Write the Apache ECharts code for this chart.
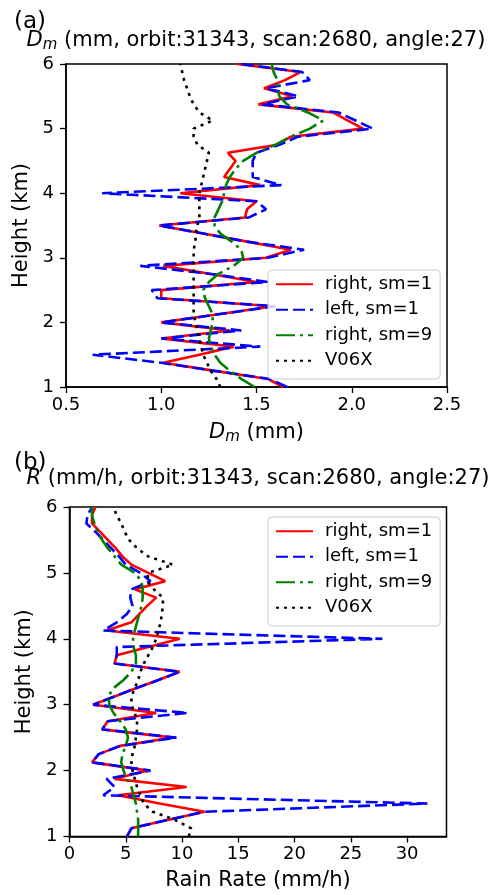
<!DOCTYPE html>
<html>
<head>
<meta charset="utf-8">
<script src="https://cdn.jsdelivr.net/npm/echarts@6/dist/echarts.min.js"></script>
<style>
html, body { margin: 0; padding: 0; background: #fff; }
#main { width: 493px; height: 895px; }
</style>
</head>
<body>
<div id="main"></div>
<script>
// heights (km), 125 m bins
var heights = [1.0, 1.125, 1.25, 1.375, 1.5, 1.625, 1.75, 1.875, 2.0, 2.125,
    2.25, 2.375, 2.5, 2.625, 2.75, 2.875, 3.0, 3.125, 3.25, 3.375,
    3.5, 3.625, 3.75, 3.875, 4.0, 4.125, 4.25, 4.375, 4.5, 4.625,
    4.75, 4.875, 5.0, 5.125, 5.25, 5.375, 5.5, 5.625, 5.75, 5.875, 6.0];

// (a) Dm, mm
var dmRight1 = [1.64, 1.56, 1.28, 1.01, 1.20, 1.38, 1.00, 1.36, 1.00, 1.30,
    1.59, 1.00, 1.00, 1.50, 1.26, 1.01, 1.55, 1.68, 1.45, 1.22,
    0.99, 1.44, 1.45, 1.50, 1.10, 1.52, 1.33, 1.36, 1.39, 1.35,
    1.61, 1.68, 2.06, 1.98, 1.90, 1.51, 1.69, 1.54, 1.65, 1.73, 1.40];
var dmLeft1 = [1.66, 1.57, 1.28, 1.00, 0.64, 1.52, 1.00, 1.42, 1.00, 1.30,
    1.60, 0.98, 0.95, 1.56, 1.26, 0.89, 1.56, 1.75, 1.45, 1.22,
    0.99, 1.46, 1.55, 1.50, 0.69, 1.63, 1.48, 1.48, 1.48, 1.50,
    1.62, 1.72, 2.11, 2.02, 1.93, 1.53, 1.72, 1.55, 1.78, 1.74, 1.42];
var dmRight9 = [1.49, 1.42, 1.36, 1.31, 1.28, 1.26, 1.25, 1.26, 1.27, 1.27,
    1.25, 1.23, 1.22, 1.25, 1.30, 1.38, 1.43, 1.42, 1.37, 1.31,
    1.28, 1.28, 1.30, 1.32, 1.33, 1.34, 1.36, 1.39, 1.43, 1.50,
    1.60, 1.68, 1.78, 1.85, 1.77, 1.66, 1.62, 1.61, 1.61, 1.59, 1.58];
var dmV06X = [1.31, 1.29, 1.26, 1.24, 1.22, 1.21, 1.20, 1.19, 1.18, 1.17,
    1.17, 1.17, 1.17, 1.17, 1.17, 1.17, 1.17, 1.17, 1.18, 1.18,
    1.19, 1.20, 1.20, 1.20, 1.20, 1.21, 1.22, 1.23, 1.24, 1.25,
    1.19, 1.17, 1.17, 1.27, 1.20, 1.17, 1.15, 1.135, 1.12, 1.11, 1.10];

// (b) rain rate, mm/h
var rrRight1 = [5.1, 5.5, 8.7, 12.0, 8.0, 4.3, 10.4, 4.0, 7.0, 2.0,
    2.6, 4.5, 9.2, 2.9, 3.4, 7.7, 2.1, 4.0, 5.9, 7.9,
    9.8, 4.0, 4.2, 7.0, 9.8, 3.3, 5.5, 6.2, 6.9, 7.7,
    5.8, 8.5, 7.0, 5.5, 4.7, 4.1, 3.4, 2.7, 2.0, 2.0, 2.3];
var rrLeft1 = [5.1, 5.5, 8.7, 12.0, 31.8, 3.0, 4.0, 3.3, 7.2, 2.0,
    2.6, 4.5, 9.5, 2.9, 3.4, 10.5, 2.1, 4.0, 5.9, 7.9,
    9.8, 4.0, 4.2, 4.2, 27.8, 3.0, 4.2, 5.1, 5.6, 5.4,
    5.5, 7.2, 6.3, 5.0, 4.4, 3.7, 3.0, 2.3, 1.5, 1.6, 2.0];
var rrRight9 = [6.1, 6.1, 6.1, 6.0, 5.9, 5.7, 5.5, 5.1, 4.8, 4.6,
    4.7, 5.0, 5.2, 5.0, 4.5, 3.9, 3.55, 3.45, 3.9, 4.8,
    5.5, 5.9, 5.9, 5.7, 5.65, 5.8, 6.0, 6.2, 6.4, 6.5,
    6.5, 6.4, 5.8, 4.6, 4.0, 3.4, 2.9, 2.5, 2.2, 2.0, 2.0];
var rrV06X = [10.6, 10.8, 9.4, 7.4, 6.6, 6.3, 6.0, 5.8, 5.6, 5.5,
    5.6, 5.8, 5.9, 6.0, 6.0, 5.8, 5.5, 5.5, 5.8, 6.1,
    6.3, 6.6, 7.0, 7.4, 7.7, 7.9, 8.1, 8.2, 8.3, 8.3,
    7.5, 6.9, 7.0, 9.2, 7.0, 6.0, 5.3, 4.9, 4.6, 4.2, 3.9];

var names = ['right, sm=1', 'left, sm=1', 'right, sm=9', 'V06X'];

var font = 'DejaVu Sans';
var chart = echarts.init(document.getElementById('main'));

var lineStyles = [
    {color: '#ff0000', width: 2.6, type: 'solid'},
    {color: '#0000ff', width: 2.6, type: [12, 5]},
    {color: '#008000', width: 2.6, type: [19, 5, 3, 5]},
    {color: '#000000', width: 2.6, type: [3, 5]}
];

function pairs(vals) {
    return vals.map(function (v, i) { return [v, heights[i]]; });
}

function makeSeries(idx, lists) {
    return lists.map(function (vals, k) {
        return {
            name: names[k],
            type: 'line',
            xAxisIndex: idx,
            yAxisIndex: idx,
            data: pairs(vals),
            symbol: 'none',
            showSymbol: false,
            color: lineStyles[k].color,
            lineStyle: lineStyles[k],
            z: 2 + k
        };
    });
}

var tickText = {color: '#000', fontSize: 18, fontFamily: font};
var nameText = {
    color: '#000', fontSize: 21, fontFamily: font, fontWeight: 'normal',
    rich: {
        i: {fontStyle: 'italic', fontWeight: 'normal', fontSize: 21, fontFamily: font, color: '#000'},
        s: {fontStyle: 'italic', fontWeight: 'normal', fontSize: 15, fontFamily: font, color: '#000', padding: [10, 0, 0, 0]},
        n: {fontWeight: 'normal', fontSize: 21, fontFamily: font, color: '#000'}
    }
};

function valueAxis(idx, min, max, interval, name, gap, extra) {
    var ax = {
        type: 'value',
        gridIndex: idx,
        min: min,
        max: max,
        interval: interval,
        name: name,
        nameLocation: 'middle',
        nameGap: gap,
        nameTextStyle: nameText,
        axisLine: {show: true, onZero: false, lineStyle: {color: '#000', width: 1.5}},
        axisTick: {show: true, inside: false, length: 6, lineStyle: {color: '#000', width: 1.3}},
        axisLabel: Object.assign({margin: 9, showMaxLabel: true}, tickText),
        splitLine: {show: false}
    };
    return Object.assign(ax, extra || {});
}

function legendFor(top) {
    return {
        data: names,
        orient: 'vertical',
        left: 268,
        top: top,
        itemWidth: 37,
        itemHeight: 14,
        itemGap: 5,
        padding: [4, 8, 8, 7],
        backgroundColor: 'rgba(255,255,255,0.8)',
        borderColor: '#cccccc',
        borderWidth: 1,
        borderRadius: 4,
        selectedMode: false,
        itemStyle: {opacity: 0},
        textStyle: {color: '#000', fontSize: 18, fontFamily: font, lineHeight: 20.5, padding: [0, 0, 0, 7]}
    };
}

var option = {
    animation: false,
    backgroundColor: '#fff',
    title: [
        {text: '(a)', left: 14, top: 11, padding: 0,
            textStyle: {color: '#000', fontSize: 23, fontWeight: 'normal', fontFamily: font}},
        {text: '{i|D}{s|m}{n| (mm, orbit:31343, scan:2680, angle:27)}', left: 256, top: 28, padding: 0,
            textAlign: 'center', textStyle: nameText},
        {text: '(b)', left: 14, top: 452, padding: 0,
            textStyle: {color: '#000', fontSize: 23, fontWeight: 'normal', fontFamily: font}},
        {text: '{i|R}{n| (mm/h, orbit:31343, scan:2680, angle:27)}', left: 258, top: 468, padding: 0,
            textAlign: 'center', textStyle: nameText}
    ],
    legend: [legendFor(270), legendFor(517)],
    grid: [
        {left: 66, top: 64, width: 381, height: 323, show: true, borderColor: '#000', borderWidth: 1.5,
            backgroundColor: 'transparent', containLabel: false, outerBoundsMode: 'none'},
        {left: 69.5, top: 507, width: 377, height: 329.5, show: true, borderColor: '#000', borderWidth: 1.5,
            backgroundColor: 'transparent', containLabel: false, outerBoundsMode: 'none'}
    ],
    xAxis: [
        valueAxis(0, 0.5, 2.5, 0.5, '{i|D}{s|m}{n| (mm)}', 33, {
            axisLabel: Object.assign({margin: 9, formatter: function (v) { return v.toFixed(1); }}, tickText)
        }),
        valueAxis(1, 0, 33.5, 5, 'Rain Rate (mm/h)', 34, {
            axisLabel: Object.assign({margin: 9, showMaxLabel: false}, tickText)
        })
    ],
    yAxis: [
        valueAxis(0, 1, 6, 1, 'Height (km)', 28, {axisLabel: Object.assign({margin: 12}, tickText)}),
        valueAxis(1, 1, 6, 1, 'Height (km)', 32, {axisLabel: Object.assign({margin: 12}, tickText)})
    ],
    series: makeSeries(0, [dmRight1, dmLeft1, dmRight9, dmV06X])
        .concat(makeSeries(1, [rrRight1, rrLeft1, rrRight9, rrV06X]))
};

chart.setOption(option);
</script>
</body>
</html>
